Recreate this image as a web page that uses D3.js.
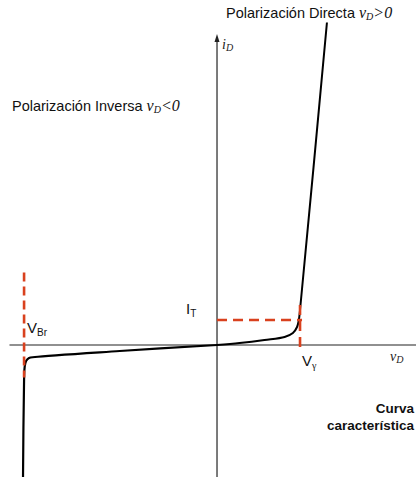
<!DOCTYPE html>
<html><head><meta charset="utf-8">
<script src="https://cdn.jsdelivr.net/npm/d3@7"></script>
<style>html,body{margin:0;padding:0;background:#fff}svg{display:block}</style>
</head><body>
<script>
// Schematic diode characteristic (arbitrary units: vD in V, iD in units of I_T)
const forwardV = [0, 0.19, 0.40, 0.57, 0.64, 0.675, 0.69, 0.70, 0.927];
const forwardI = [0, 0.08, 0.20, 0.32, 0.48, 0.72, 1.0, 1.4, 12.9];
const reverseV = [0, -0.82, -1.535, -1.585, -1.610, -1.622, -1.627, -1.636];
const reverseI = [0, -0.24, -0.48, -0.52, -0.64, -0.88, -1.4, -5.3];
const VGAMMA = 0.70, VBR = -1.627, IT = 1.0;
const markerLabels = ["I", "T", "V", "Br", "V", "γ"];

const W = 416, H = 477;
const x = d3.scaleLinear().domain([-1.83, 1.678]).range([0, 416]);
const y = d3.scaleLinear().domain([-5.28, 13.8]).range([477, 0]);

const svg = d3.select("body").append("svg").attr("width", W).attr("height", H);
const sans = "'Liberation Sans', Arial, sans-serif";
const serif = "'Liberation Serif', 'Times New Roman', serif";

// axes
svg.append("line").attr("x1", x(-1.75)).attr("x2", x(1.678)).attr("y1", y(0)).attr("y2", y(0))
  .attr("stroke", "#222").attr("stroke-width", 1.2);
svg.append("line").attr("x1", x(0)).attr("x2", x(0)).attr("y1", y(-5.28)).attr("y2", y(12.2))
  .attr("stroke", "#222").attr("stroke-width", 1.2);
svg.append("path")
  .attr("d", `M${x(0)},${y(12.2)-6} l-2.5,8 l5,0 z`).attr("fill", "#222");

// curves
const line = d3.line().x(d => x(d[0])).y(d => y(d[1])).curve(d3.curveCatmullRom.alpha(0.5));
svg.append("path").datum(d3.zip(forwardV, forwardI)).attr("d", line)
  .attr("fill", "none").attr("stroke", "#000").attr("stroke-width", 2);
svg.append("path").datum(d3.zip(reverseV, reverseI)).attr("d", line)
  .attr("fill", "none").attr("stroke", "#000").attr("stroke-width", 2.2);

// dashed red markers
const red = "#d9411e";
svg.append("line").attr("x1", x(VBR)).attr("x2", x(VBR)).attr("y1", y(2.9)).attr("y2", y(-1.3))
  .attr("stroke", red).attr("stroke-width", 2.6).attr("stroke-dasharray", "9,5");
svg.append("line").attr("x1", x(0)).attr("x2", x(VGAMMA)+2).attr("y1", y(IT)).attr("y2", y(IT))
  .attr("stroke", red).attr("stroke-width", 2.6).attr("stroke-dasharray", "10,6");
svg.append("line").attr("x1", x(VGAMMA)).attr("x2", x(VGAMMA)).attr("y1", y(1.6)).attr("y2", y(-0.15))
  .attr("stroke", red).attr("stroke-width", 2.6).attr("stroke-dasharray", "10,6");

// marker labels
function sub(xp, yp, main, s, fam) {
  const t = svg.append("text").attr("x", xp).attr("y", yp).attr("font-family", sans)
    .attr("font-size", 15).attr("fill", "#111");
  t.append("tspan").text(main);
  t.append("tspan").attr("font-size", 10).attr("dy", 3).attr("font-family", fam || sans).text(s);
  return t;
}
sub(186, 314, markerLabels[0], markerLabels[1]);
sub(27, 333, markerLabels[2], markerLabels[3]);
sub(302, 366, markerLabels[4], markerLabels[5], serif);

// axis labels
const iD = svg.append("text").attr("x", 222).attr("y", 49).attr("font-family", serif)
  .attr("font-style", "italic").attr("font-size", 14).attr("fill", "#222");
iD.append("tspan").text("i");
iD.append("tspan").attr("font-size", 10).attr("dy", 2).text("D");
const vD = svg.append("text").attr("x", 390).attr("y", 361).attr("font-family", serif)
  .attr("font-style", "italic").attr("font-size", 14).attr("fill", "#222");
vD.append("tspan").text("v");
vD.append("tspan").attr("font-size", 10).attr("dy", 2).text("D");

// titles
function title(xp, yp, txt, op) {
  const t = svg.append("text").attr("x", xp).attr("y", yp).attr("font-family", sans)
    .attr("font-size", 14.5).attr("fill", "#111");
  t.append("tspan").text(txt + " ");
  t.append("tspan").attr("font-family", serif).attr("font-style", "italic").attr("font-size", 16).text("v");
  t.append("tspan").attr("font-family", serif).attr("font-style", "italic").attr("font-size", 10).attr("dy", 2).text("D");
  t.append("tspan").attr("font-family", serif).attr("font-style", "italic").attr("font-size", 16).attr("dy", -2).text(op + "0");
}
title(226, 18, "Polarización Directa", ">");
title(12, 111, "Polarización Inversa", "<");

svg.append("text").attr("x", 414).attr("y", 413).attr("text-anchor", "end")
  .attr("font-family", sans).attr("font-weight", "bold").attr("font-size", 13.5).attr("fill", "#111").text("Curva");
svg.append("text").attr("x", 414).attr("y", 430).attr("text-anchor", "end")
  .attr("font-family", sans).attr("font-weight", "bold").attr("font-size", 13.5).attr("fill", "#111").text("característica");
</script>
</body></html>
